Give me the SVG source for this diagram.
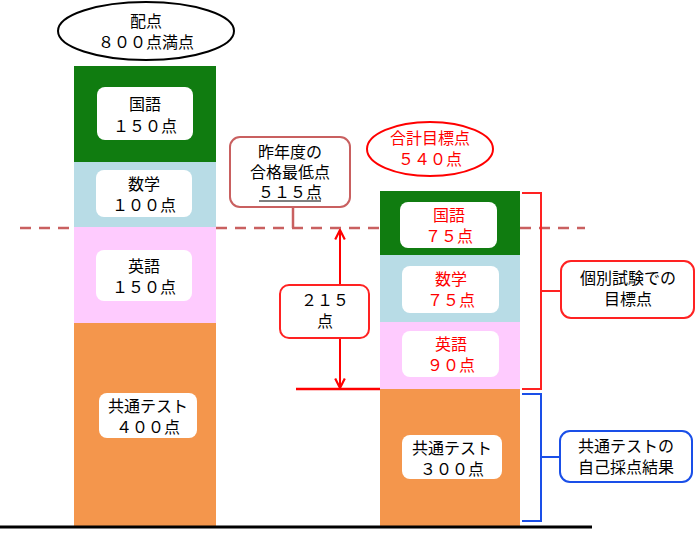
<svg xmlns="http://www.w3.org/2000/svg" width="700" height="534" viewBox="0 0 700 534">
<style>
text{font-family:"Noto Sans CJK JP","Noto Sans",sans-serif;font-size:16px;text-anchor:middle}
.w{fill:#fff;stroke:none}
.r{fill:#f00}
.rb{fill:#fff;stroke:#f22;stroke-width:2}
</style>
<defs><marker id="a" viewBox="0 0 10 10" refX="9" refY="5" markerWidth="6" markerHeight="6" orient="auto-start-reverse"><path d="M1,1 L9,5 L1,9" fill="none" stroke="#f00" stroke-width="1.8"/></marker></defs>
<rect width="700" height="534" fill="#fff"/>
<g id="left">
<rect x="74" y="66" width="142" height="96" fill="#107c10"/>
<rect x="74" y="162" width="142" height="65" fill="#b8dce6"/>
<rect x="74" y="227" width="142" height="96" fill="#fecbfe"/>
<rect x="74" y="323" width="142" height="203" fill="#f4964c"/>
<rect class="w" x="97" y="87" width="96" height="53" rx="8"/>
<text x="145" y="110">国語</text><text x="145" y="132">１５０点</text>
<rect class="w" x="96" y="170" width="96" height="47" rx="8"/>
<text x="144" y="190">数学</text><text x="144" y="211">１００点</text>
<rect class="w" x="96" y="250" width="96" height="51" rx="8"/>
<text x="144" y="272">英語</text><text x="144" y="293">１５０点</text>
<rect class="w" x="99" y="393" width="98" height="45" rx="8"/>
<text x="148" y="412">共通テスト</text><text x="148" y="433">４００点</text>
</g>
<g id="haiten"><ellipse cx="146" cy="31" rx="88" ry="29" fill="#fff" stroke="#000" stroke-width="2"/>
<text x="146" y="27">配点</text><text x="146" y="48">８００点満点</text></g>
<g id="right">
<rect x="380" y="191" width="140" height="64" fill="#107c10"/>
<rect x="380" y="255" width="140" height="67" fill="#b8dce6"/>
<rect x="380" y="322" width="140" height="67" fill="#fecbfe"/>
<rect x="380" y="389" width="140" height="137" fill="#f4964c"/>
<rect class="w" x="400" y="202" width="97" height="46" rx="8"/>
<text class="r" x="449" y="221">国語</text><text class="r" x="449" y="242">７５点</text>
<rect class="w" x="402" y="266" width="97" height="47" rx="8"/>
<text class="r" x="451" y="285">数学</text><text class="r" x="451" y="306">７５点</text>
<rect class="w" x="402" y="331" width="97" height="46" rx="8"/>
<text class="r" x="451" y="350">英語</text><text class="r" x="451" y="371">９０点</text>
<rect class="w" x="402" y="435" width="100" height="44" rx="8"/>
<text x="452" y="454">共通テスト</text><text x="452" y="475">３００点</text>
</g>
<g id="goal"><ellipse cx="430" cy="149" rx="63" ry="27" fill="#fff" stroke="#f00" stroke-width="2"/>
<text class="r" x="430" y="144">合計目標点</text><text class="r" x="430" y="165">５４０点</text></g>
<g id="connectors" fill="none">
<line x1="0" y1="527" x2="592" y2="527" stroke="#000" stroke-width="3"/>
<line x1="20" y1="228" x2="74" y2="228" stroke="#c96060" stroke-width="2.5" stroke-dasharray="11,8"/>
<line x1="216" y1="228" x2="380" y2="228" stroke="#c96060" stroke-width="2.5" stroke-dasharray="11,8"/>
<line x1="520" y1="228" x2="585" y2="228" stroke="#c96060" stroke-width="2.5" stroke-dasharray="11,8"/>
<line x1="293" y1="207" x2="293" y2="228" stroke="#c96060" stroke-width="2.5"/>
<line x1="340" y1="230" x2="340" y2="388" stroke="#f00" stroke-width="2" marker-start="url(#a)" marker-end="url(#a)"/>
<line x1="296" y1="389" x2="380" y2="389" stroke="#f00" stroke-width="2.5"/>
<path d="M522,193 H541 V389 H522 M541,291 H561" stroke="#f22" stroke-width="2"/>
<path d="M522,394 H541 V521 H522 M541,457 H560" stroke="#1a4fe8" stroke-width="2"/>
</g>
<g id="saitei"><rect x="230" y="137" width="120" height="70" rx="10" fill="#fff" stroke="#c96060" stroke-width="2"/>
<text x="290" y="158">昨年度の</text><text x="290" y="178">合格最低点</text><text x="290" y="198">５１５点</text>
<line x1="259" y1="201" x2="321" y2="201" stroke="#000" stroke-width="1"/></g>
<g id="diff"><rect class="rb" x="280" y="285" width="89" height="53" rx="9"/>
<text x="325" y="306">２１５</text><text x="325" y="327">点</text></g>
<g id="kobetsu"><rect class="rb" x="561" y="261" width="133" height="57" rx="10"/>
<text x="628" y="284">個別試験での</text><text x="628" y="305">目標点</text></g>
<g id="kyotsu"><rect x="560" y="431" width="132" height="51" rx="10" fill="#fff" stroke="#1a4fe8" stroke-width="2"/>
<text x="626" y="452">共通テストの</text><text x="626" y="473">自己採点結果</text></g>
</svg>
